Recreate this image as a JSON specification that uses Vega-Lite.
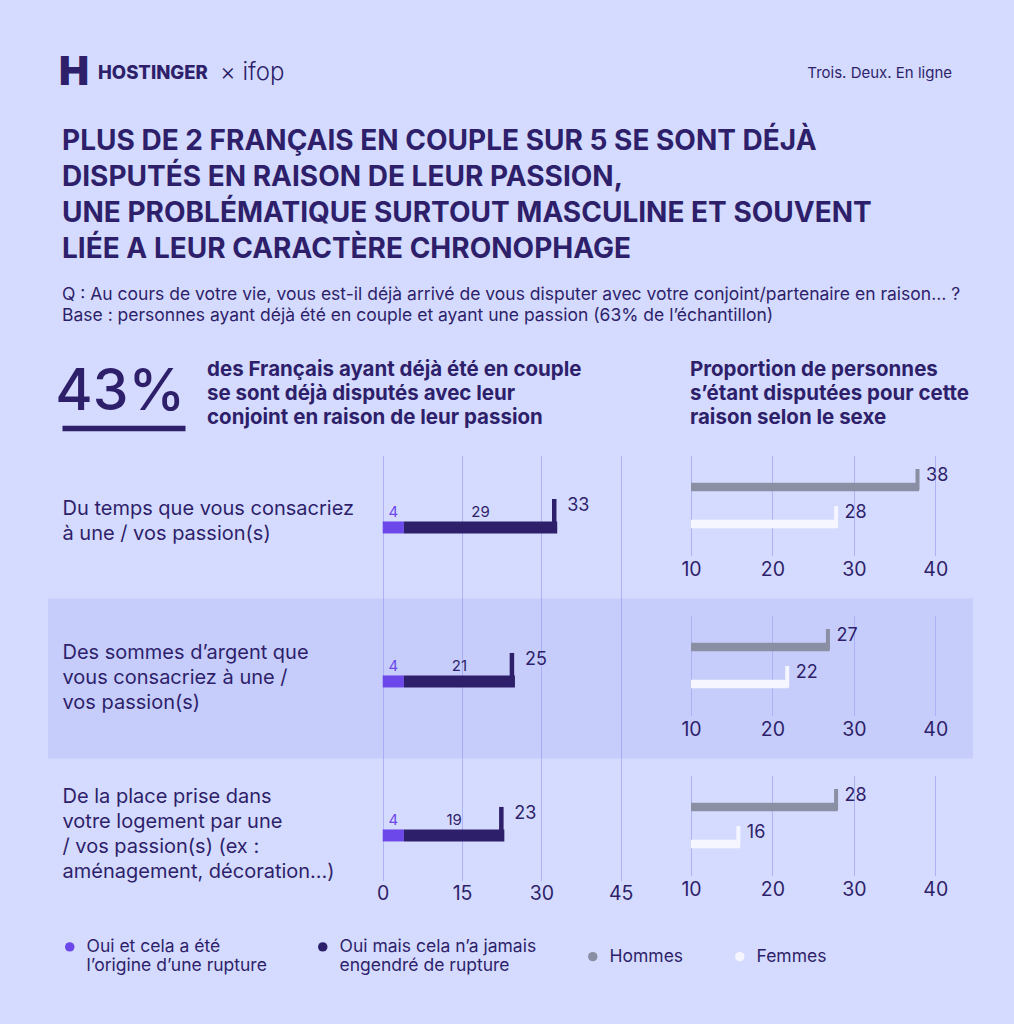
{
  "$schema": "https://vega.github.io/schema/vega-lite/v6.json",
  "background": "#d5dbfe",
  "padding": {"left": 48, "top": 53, "right": 41, "bottom": 36},
  "config": {
    "font": "Inter",
    "view": {"stroke": null},
    "title": {"color": "#2e1f6b", "anchor": "start", "font": "Inter", "subtitleFont": "Inter", "subtitleColor": "#2e1f6b"},
    "axis": {"labelFont": "Inter", "labelColor": "#2e1f6b", "domain": false, "ticks": false, "gridColor": "#adb1f6", "gridOpacity": 1, "labelFlush": false},
    "legend": {"labelFont": "Inter", "labelColor": "#2e1f6b"},
    "text": {"font": "Inter"}
  },
  "datasets": {
    "gauche": [
      {"question": "Du temps que vous consacriez\nà une / vos passion(s)", "serie": "Oui et cela a été\nl’origine d’une rupture", "value": 4},
      {"question": "Du temps que vous consacriez\nà une / vos passion(s)", "serie": "Oui mais cela n’a jamais\nengendré de rupture", "value": 29},
      {"question": "Des sommes d’argent que\nvous consacriez à une /\nvos passion(s)", "serie": "Oui et cela a été\nl’origine d’une rupture", "value": 4},
      {"question": "Des sommes d’argent que\nvous consacriez à une /\nvos passion(s)", "serie": "Oui mais cela n’a jamais\nengendré de rupture", "value": 21},
      {"question": "De la place prise dans\nvotre logement par une\n/ vos passion(s) (ex :\naménagement, décoration…)", "serie": "Oui et cela a été\nl’origine d’une rupture", "value": 4},
      {"question": "De la place prise dans\nvotre logement par une\n/ vos passion(s) (ex :\naménagement, décoration…)", "serie": "Oui mais cela n’a jamais\nengendré de rupture", "value": 19}
    ],
    "droite": [
      {"question": "Du temps que vous consacriez\nà une / vos passion(s)", "serie": "Hommes", "value": 38},
      {"question": "Du temps que vous consacriez\nà une / vos passion(s)", "serie": "Femmes", "value": 28},
      {"question": "Des sommes d’argent que\nvous consacriez à une /\nvos passion(s)", "serie": "Hommes", "value": 27},
      {"question": "Des sommes d’argent que\nvous consacriez à une /\nvos passion(s)", "serie": "Femmes", "value": 22},
      {"question": "De la place prise dans\nvotre logement par une\n/ vos passion(s) (ex :\naménagement, décoration…)", "serie": "Hommes", "value": 28},
      {"question": "De la place prise dans\nvotre logement par une\n/ vos passion(s) (ex :\naménagement, décoration…)", "serie": "Femmes", "value": 16}
    ],
    "kpi": [{"valeur": 0.43}]
  },
  "bounds": "flush",
  "spacing": 27.5,
  "vconcat": [
    {
      "bounds": "flush",
      "spacing": 0,
      "hconcat": [
        {"width": 50, "height": 1, "data": {"values": []}, "mark": "point",
         "title": {"text": "H", "fontSize": 40, "fontWeight": 900, "baseline": "alphabetic", "dx": 11, "offset": 180}},
        {"width": 120, "height": 1, "data": {"values": []}, "mark": "point",
         "title": {"text": "HOSTINGER", "fontSize": 18.5, "fontWeight": 800, "baseline": "alphabetic", "offset": 208}},
        {"width": 250, "height": 1, "data": {"values": []}, "mark": "point",
         "title": {"text": "× ifop", "fontSize": 24, "fontWeight": 300, "baseline": "alphabetic", "dx": 2, "offset": 201}},
        {"width": 484, "height": 1, "data": {"values": []}, "mark": "point",
         "title": {"text": "Trois. Deux. En ligne", "fontSize": 15, "fontWeight": 400, "baseline": "alphabetic", "anchor": "end", "offset": 212}}
      ]
    },
    {
      "width": 904, "height": 7.5, "data": {"values": []}, "mark": "point",
      "title": {
        "text": ["PLUS DE 2 FRANÇAIS EN COUPLE SUR 5 SE SONT DÉJÀ", "DISPUTÉS EN RAISON DE LEUR PASSION,", "UNE PROBLÉMATIQUE SURTOUT MASCULINE ET SOUVENT", "LIÉE A LEUR CARACTÈRE CHRONOPHAGE"],
        "subtitle": ["Q : Au cours de votre vie, vous est-il déjà arrivé de vous disputer avec votre conjoint/partenaire en raison… ?", "Base : personnes ayant déjà été en couple et ayant une passion (63% de l’échantillon)"],
        "fontSize": 28, "fontWeight": 700, "lineHeight": 36,
        "subtitleFontSize": 17.5, "subtitleLineHeight": 21, "subtitlePadding": 22,
        "dx": 14, "offset": 8
      }
    },
    {
      "width": 137, "height": 60, "data": {"name": "kpi"},
      "mark": {"type": "text", "align": "right", "baseline": "alphabetic", "fontSize": 57, "fontWeight": 500, "color": "#2e1f6b", "dy": -18.5},
      "encoding": {
        "x": {"field": "valeur", "type": "quantitative", "title": null,
              "scale": {"nice": false, "zero": true, "range": [14, 137]},
              "axis": {"domain": true, "domainWidth": 5.5, "domainColor": "#2e1f6b", "domainCap": "butt", "labels": false, "ticks": false, "grid": false}},
        "y": {"value": "height"},
        "text": {"field": "valeur", "type": "quantitative", "format": ".0%"}
      }
    },
    {
      "bounds": "flush",
      "spacing": 0,
      "hconcat": [
        {
          "width": 643, "height": 425,
          "data": {"name": "gauche"},
          "title": {"text": ["des Français ayant déjà été en couple", "se sont déjà disputés avec leur", "conjoint en raison de leur passion"], "fontSize": 20.5, "fontWeight": 700, "lineHeight": 24, "dx": 159, "offset": 27},
          "resolve": {"scale": {"y": "independent"}},
          "layer": [
            {"transform": [{"filter": {"field": "question", "equal": "Des sommes d’argent que\nvous consacriez à une /\nvos passion(s)"}}, {"filter": {"field": "serie", "equal": "Oui et cela a été\nl’origine d’une rupture"}}],
             "mark": {"type": "bar", "height": 160, "yOffset": 26, "fill": "#9da5f5", "opacity": 0.25},
             "encoding": {
               "x": {"datum": -63.28, "type": "quantitative"}, "x2": {"datum": 111.61},
               "y": {"field": "question", "type": "nominal", "title": null,
                     "scale": {"type": "point", "domain": ["Du temps que vous consacriez\nà une / vos passion(s)", "Des sommes d’argent que\nvous consacriez à une /\nvos passion(s)", "De la place prise dans\nvotre logement par une\n/ vos passion(s) (ex :\naménagement, décoration…)"], "padding": 0.476, "align": 0.387},
                     "axis": {"orient": "left", "offset": -14, "zindex": 1, "labelAlign": "left", "labelPadding": 0, "tickSize": 0, "labelFontSize": 20, "labelLineHeight": 25, "labelLimit": 400, "labelBaseline": "middle", "labelExpr": "split(datum.label, '\\n')", "grid": false}}
             }},
            {"mark": {"type": "bar", "height": 12},
             "encoding": {
               "y": {"field": "question", "type": "nominal", "title": null, "axis": null,
                     "scale": {"type": "point", "domain": ["Du temps que vous consacriez\nà une / vos passion(s)", "Des sommes d’argent que\nvous consacriez à une /\nvos passion(s)", "De la place prise dans\nvotre logement par une\n/ vos passion(s) (ex :\naménagement, décoration…)"], "padding": 0.38, "align": 0.615}},
               "x": {"field": "value", "type": "quantitative", "stack": "zero", "title": null,
                     "scale": {"domain": [0, 45], "range": [334.7, 572.7], "nice": false},
                     "axis": {"values": [0, 15, 30, 45], "grid": true, "labelFontSize": 19.5, "labelPadding": 4}},
               "color": {"field": "serie", "type": "nominal",
                         "scale": {"domain": ["Oui et cela a été\nl’origine d’une rupture", "Oui mais cela n’a jamais\nengendré de rupture", "Hommes", "Femmes"], "range": ["#6c47ea", "#2e1f6b", "#8a8fa4", "#f5f6ff"]},
                         "legend": {"orient": "bottom", "direction": "horizontal", "title": null, "symbolType": "circle", "symbolSize": 90, "symbolStrokeWidth": 0, "labelFontSize": 17.5, "labelLineHeight": 25, "labelBaseline": "middle", "labelExpr": "split(datum.label, '\\n')", "labelLimit": 300, "columnPadding": 47, "labelOffset": 8, "padding": 13, "offset": 22}}
             }},
            {"mark": {"type": "text", "fontSize": 15, "yOffset": -15.5},
             "encoding": {
               "y": {"field": "question", "type": "nominal", "title": null, "axis": null,
                     "scale": {"type": "point", "domain": ["Du temps que vous consacriez\nà une / vos passion(s)", "Des sommes d’argent que\nvous consacriez à une /\nvos passion(s)", "De la place prise dans\nvotre logement par une\n/ vos passion(s) (ex :\naménagement, décoration…)"], "padding": 0.38, "align": 0.615}},
               "x": {"field": "value", "type": "quantitative", "stack": "zero", "bandPosition": 0.5, "title": null},
               "text": {"field": "value", "type": "quantitative"},
               "color": {"field": "serie", "type": "nominal"}
             }},
            {"transform": [{"aggregate": [{"op": "sum", "field": "value", "as": "total"}], "groupby": ["question"]}],
             "encoding": {
               "y": {"field": "question", "type": "nominal", "title": null, "axis": null,
                     "scale": {"type": "point", "domain": ["Du temps que vous consacriez\nà une / vos passion(s)", "Des sommes d’argent que\nvous consacriez à une /\nvos passion(s)", "De la place prise dans\nvotre logement par une\n/ vos passion(s) (ex :\naménagement, décoration…)"], "padding": 0.38, "align": 0.615}},
               "x": {"field": "total", "type": "quantitative", "title": null}
             },
             "layer": [
               {"mark": {"type": "tick", "thickness": 4.5, "size": 34, "yOffset": -11.5, "xOffset": -3, "color": "#2e1f6b", "opacity": 1}},
               {"mark": {"type": "text", "align": "left", "dx": 10, "yOffset": -21.5, "fontSize": 18, "color": "#2e1f6b"},
                "encoding": {"text": {"field": "total", "type": "quantitative"}}}
             ]}
          ]
        },
        {
          "data": {"name": "droite"},
          "bounds": "flush",
          "spacing": {"row": 60},
          "title": {"text": ["Proportion de personnes", "s’étant disputées pour cette", "raison selon le sexe"], "fontSize": 20.5, "fontWeight": 700, "lineHeight": 24, "dx": 9, "offset": 27},
          "facet": {"row": {"field": "question", "type": "nominal", "sort": ["Du temps que vous consacriez\nà une / vos passion(s)", "Des sommes d’argent que\nvous consacriez à une /\nvos passion(s)", "De la place prise dans\nvotre logement par une\n/ vos passion(s) (ex :\naménagement, décoration…)"], "header": null}},
          "spec": {
            "width": 244.3, "height": 100,
            "encoding": {"y": {"field": "serie", "type": "nominal", "title": null, "axis": null, "scale": {"domain": ["Hommes", "Femmes"], "paddingInner": 0, "paddingOuter": 0.35}}},
            "layer": [
              {"mark": {"type": "bar", "height": 8.5},
               "encoding": {
                 "x": {"field": "value", "type": "quantitative", "title": null, "scale": {"domain": [10, 40], "nice": false, "zero": false},
                       "axis": {"values": [10, 20, 30, 40], "grid": true, "labelFontSize": 19.5, "labelPadding": 5}},
                 "x2": {"datum": 10},
                 "color": {"field": "serie", "type": "nominal"}
               }},
              {"mark": {"type": "tick", "thickness": 4, "size": 21, "yOffset": -7.5, "xOffset": -1.5, "opacity": 1},
               "encoding": {"x": {"field": "value", "type": "quantitative", "title": null}, "color": {"field": "serie", "type": "nominal"}}},
              {"mark": {"type": "text", "align": "left", "dx": 7, "yOffset": -11, "fontSize": 18, "color": "#2e1f6b"},
               "encoding": {"x": {"field": "value", "type": "quantitative", "title": null}, "text": {"field": "value", "type": "quantitative"}}}
            ]
          },
          "resolve": {"axis": {"x": "independent"}}
        }
      ]
    }
  ]
}
